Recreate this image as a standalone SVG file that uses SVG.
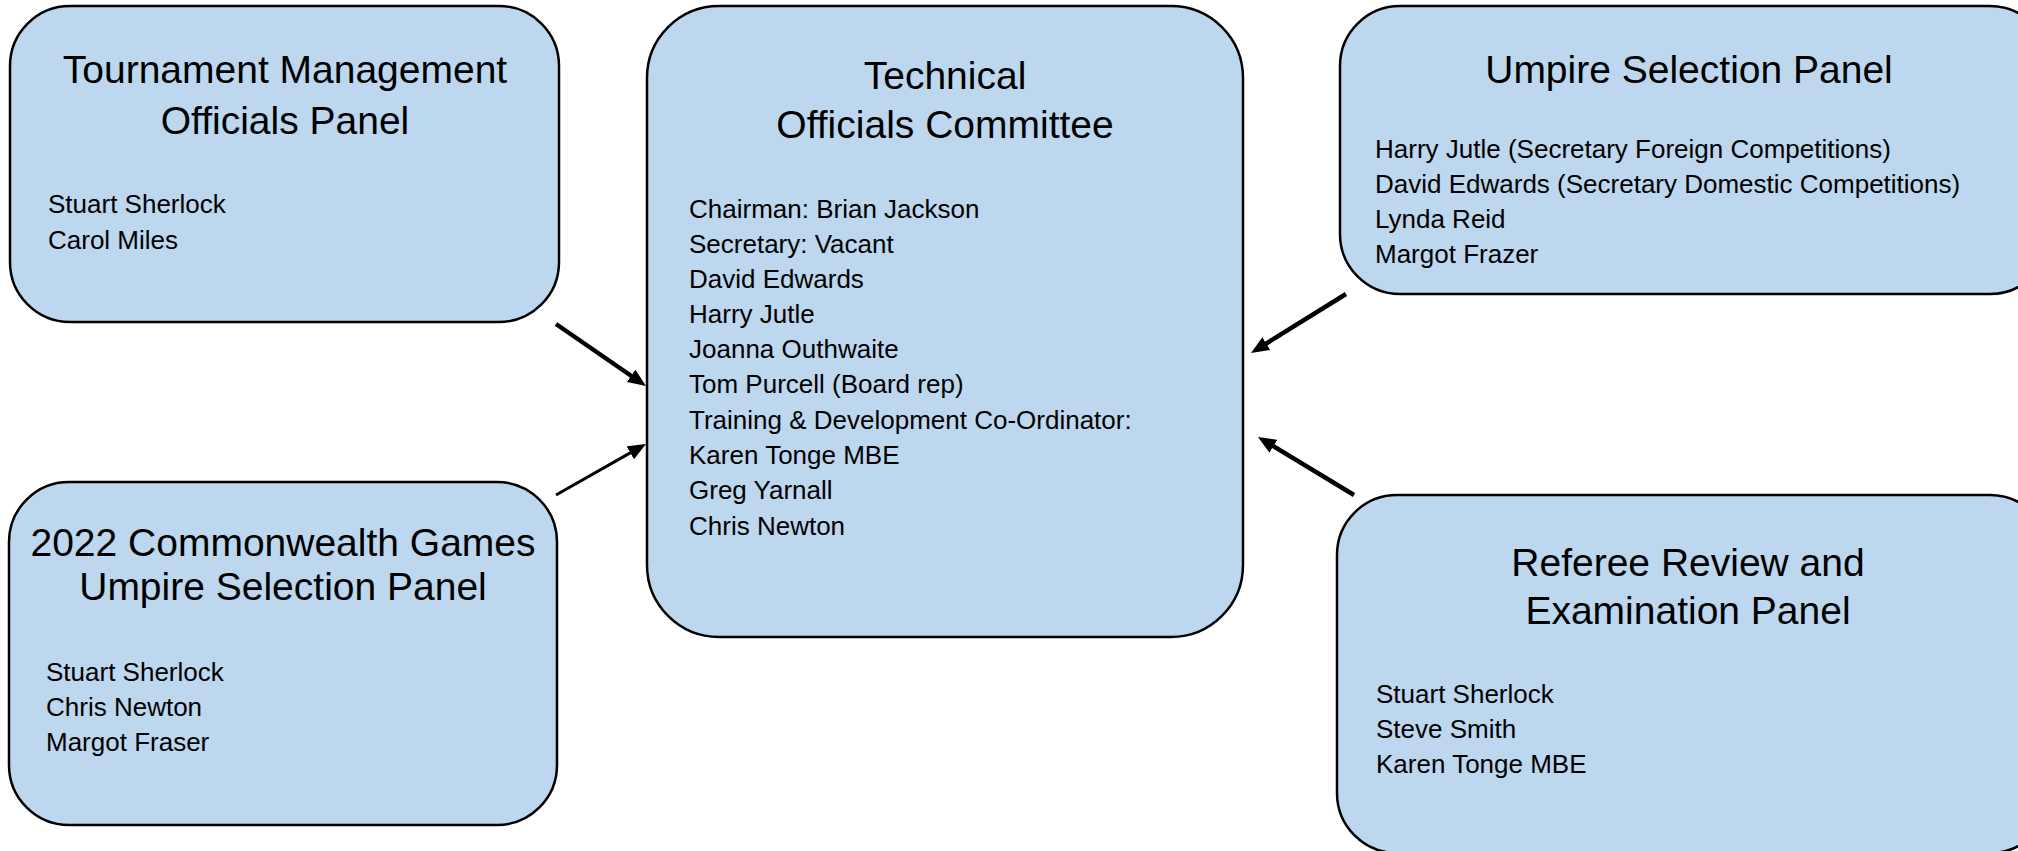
<svg xmlns="http://www.w3.org/2000/svg" width="2018" height="851" viewBox="0 0 2018 851">
<style>
.box{fill:#BDD7EE;stroke:#000;stroke-width:2.5}
.t{font-family:"Liberation Sans",Arial,sans-serif;font-size:39px;fill:#000;text-anchor:middle}
.b{font-family:"Liberation Sans",Arial,sans-serif;font-size:26px;fill:#000}
.c{stroke:#000;fill:none;marker-end:url(#ah)}
</style>
<defs>
<marker id="ah" markerUnits="userSpaceOnUse" markerWidth="20" markerHeight="16" refX="10" refY="7.5" orient="auto">
<path d="M0,0 L18,7.5 L0,15 z" fill="#000"/>
</marker>
</defs>
<rect width="2018" height="851" fill="#fff"/>
<g id="connectors">
<line class="c" x1="556" y1="324" x2="639.4" y2="381.5" stroke-width="4.5"/>
<line class="c" x1="556" y1="495" x2="639" y2="447.9" stroke-width="3"/>
<line class="c" x1="1346" y1="294" x2="1257.8" y2="348.8" stroke-width="4.5"/>
<line class="c" x1="1354" y1="495" x2="1264.8" y2="441.1" stroke-width="4.5"/>
</g>
<g id="tournament">
<rect class="box" x="10" y="6" width="549" height="316" rx="60"/>
<text class="t" x="285" y="83">Tournament Management</text>
<text class="t" x="285" y="134">Officials Panel</text>
<text class="b" x="48" y="213">Stuart Sherlock</text>
<text class="b" x="48" y="249">Carol Miles</text>
</g>
<g id="technical">
<rect class="box" x="647" y="6" width="596" height="631" rx="72"/>
<text class="t" x="945" y="89">Technical</text>
<text class="t" x="945" y="138">Officials Committee</text>
<text class="b" x="689" y="218">Chairman: Brian Jackson</text>
<text class="b" x="689" y="253">Secretary: Vacant</text>
<text class="b" x="689" y="288">David Edwards</text>
<text class="b" x="689" y="323">Harry Jutle</text>
<text class="b" x="689" y="358">Joanna Outhwaite</text>
<text class="b" x="689" y="393">Tom Purcell (Board rep)</text>
<text class="b" x="689" y="429">Training &amp; Development Co-Ordinator:</text>
<text class="b" x="689" y="464">Karen Tonge MBE</text>
<text class="b" x="689" y="499">Greg Yarnall</text>
<text class="b" x="689" y="535">Chris Newton</text>
</g>
<g id="umpire">
<rect class="box" x="1340" y="6" width="710" height="288" rx="60"/>
<text class="t" x="1689" y="83">Umpire Selection Panel</text>
<text class="b" x="1375" y="158">Harry Jutle (Secretary Foreign Competitions)</text>
<text class="b" x="1375" y="193">David Edwards (Secretary Domestic Competitions)</text>
<text class="b" x="1375" y="228">Lynda Reid</text>
<text class="b" x="1375" y="263">Margot Frazer</text>
</g>
<g id="commonwealth">
<rect class="box" x="9" y="482" width="548" height="343" rx="60"/>
<text class="t" x="283" y="556">2022 Commonwealth Games</text>
<text class="t" x="283" y="600">Umpire Selection Panel</text>
<text class="b" x="46" y="681">Stuart Sherlock</text>
<text class="b" x="46" y="716">Chris Newton</text>
<text class="b" x="46" y="751">Margot Fraser</text>
</g>
<g id="referee">
<rect class="box" x="1337" y="495" width="713" height="358" rx="60"/>
<text class="t" x="1688" y="576">Referee Review and</text>
<text class="t" x="1688" y="624">Examination Panel</text>
<text class="b" x="1376" y="703">Stuart Sherlock</text>
<text class="b" x="1376" y="738">Steve Smith</text>
<text class="b" x="1376" y="773">Karen Tonge MBE</text>
</g>
</svg>
